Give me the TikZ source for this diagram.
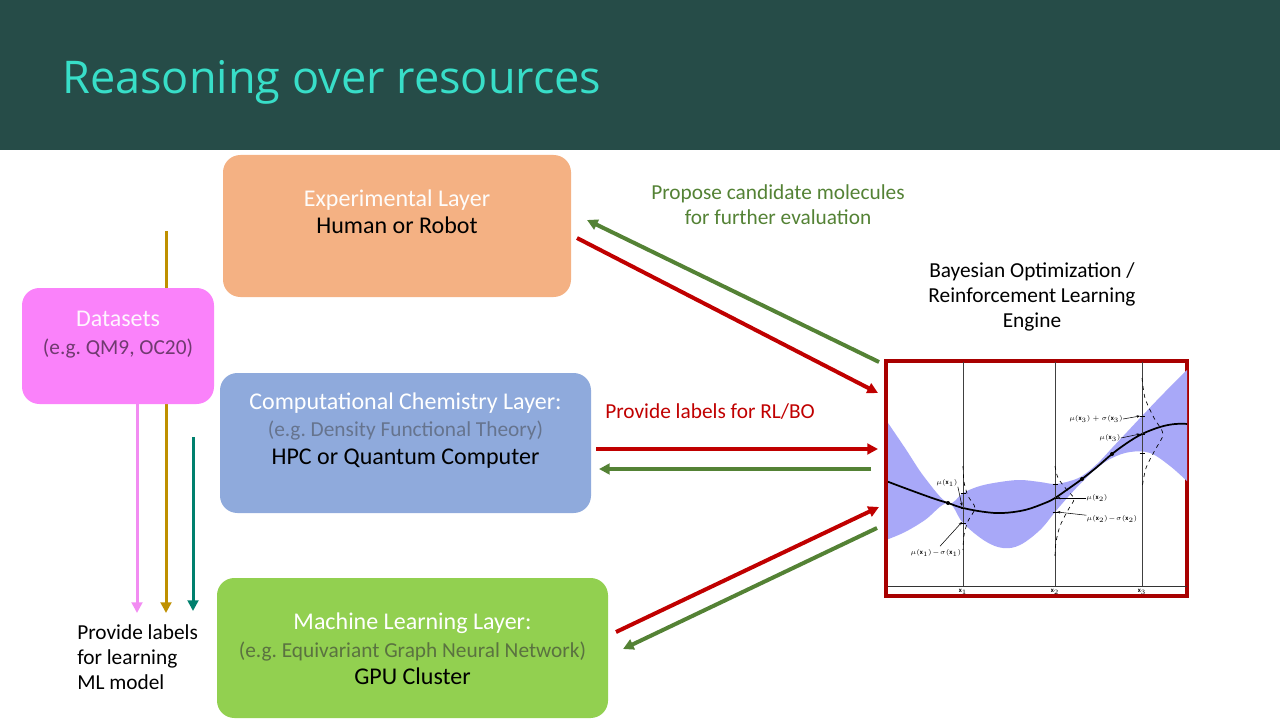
\documentclass[tikz,border=0pt]{standalone}
\usepackage{fontspec}
\setmainfont{Carlito}
\newfontfamily\titlefont{Open Sans}
\usetikzlibrary{arrows.meta,calc}
\frenchspacing

\definecolor{headbg}{HTML}{264C48}
\definecolor{titlecol}{HTML}{38DEC8}
\definecolor{expfill}{HTML}{F4B183}
\definecolor{datafill}{HTML}{FA82FA}
\definecolor{compfill}{HTML}{8FAADC}
\definecolor{mlfill}{HTML}{92D050}
\definecolor{redarr}{HTML}{C00000}
\definecolor{greenarr}{HTML}{548235}
\definecolor{goldarr}{HTML}{BF9000}
\definecolor{tealarr}{HTML}{00806E}
\definecolor{pinkarr}{HTML}{F28CF2}
\definecolor{framecol}{HTML}{A80000}
\definecolor{bandcol}{HTML}{A8A8F8}
\definecolor{datasub}{HTML}{703A70}
\definecolor{compsub}{HTML}{66748E}
\definecolor{mlsub}{HTML}{5A7240}

\newcommand{\subline}[2]{{\fontsize{16}{20.5}\selectfont\textcolor{#1}{#2}}}

\tikzset{
  layerbox/.style={rounded corners=13pt, draw=none, inner sep=0pt},
  boxtext/.style={font=\fontsize{18}{20.5}\selectfont, align=center, inner sep=0pt},
  note/.style={font=\fontsize{16}{18.75}\selectfont, align=center, inner sep=0pt},
  bigarrow/.style={line width=3pt, -{Triangle[length=8pt,width=8pt]}},
  vertarrow/.style={line width=2.25pt, -{Triangle[length=8pt,width=8pt]}},
  mathlab/.style={font=\fontsize{5}{6}\selectfont, inner sep=0pt},
  pointer/.style={line width=0.4pt, -{Stealth[length=2.5pt,width=2pt]}},
  dot/.style={circle, fill=black, inner sep=0pt, minimum size=3pt},
}

\begin{document}
\begin{tikzpicture}[x=0.75pt,y=-0.75pt]
\useasboundingbox (0,0) rectangle (1280,720);

% header band and title
\fill[headbg] (0,0) rectangle (1280,150);
\node[anchor=base west, text=titlecol, inner sep=0pt,
      font=\titlefont\fontsize{33.8}{40}\selectfont] (title) at (62,94) {Reasoning over resources};

% gold line runs behind the datasets box
\coordinate (goldtop) at (166,231);
\coordinate (goldend) at (166,613);
\draw[vertarrow, goldarr] (goldtop) -- (goldend);

% layer boxes
\node[layerbox, fill=expfill, minimum width=261pt, minimum height=106.5pt] (exp) at (397,226) {};
\node[layerbox, fill=datafill, minimum width=144pt, minimum height=87pt] (data) at (118,346) {};
\node[layerbox, fill=compfill, minimum width=278.25pt, minimum height=105pt] (comp) at (405.5,443) {};
\node[layerbox, fill=mlfill, minimum width=293.25pt, minimum height=105pt] (ml) at (412.5,648) {};

\node[boxtext] (explab) at (397,212) {\textcolor{white!96!expfill}{Experimental Layer}\\ Human or Robot};
\node[boxtext] (datalab) at (118,334.5) {\textcolor{white!92!datafill}{Datasets}\\ \subline{datasub}{(e.g. QM9, OC20)}};
\node[boxtext] (complab) at (405.5,430.5) {\textcolor{white}{Computational Chemistry Layer:}\\ \subline{compsub}{(e.g. Density Functional Theory)}\\ HPC or Quantum Computer};
\node[boxtext] (mllab) at (412.5,649) {\textcolor{white}{Machine Learning Layer:}\\ \subline{mlsub}{(e.g. Equivariant Graph Neural Network)}\\ GPU Cluster};

% dataset label arrows
\coordinate (pinkend) at (137,613);
\coordinate (tealtop) at (193,437);
\coordinate (tealend) at (193,611);
\draw[vertarrow, pinkarr] (data.south -| pinkend) -- (pinkend);
\draw[vertarrow, tealarr] (tealtop) -- (tealend);

\node[note, align=left, anchor=north west] (mlnote) at (77,624) {Provide labels\\for learning\\ML model};

% engine caption and notes
\node[note] (engcap) at (1032,297) {Bayesian Optimization /\\Reinforcement Learning\\Engine};
\node[note, text=greenarr] (propose) at (778,204.5) {Propose candidate molecules\\for further evaluation};
\node[note, text=redarr, anchor=west] (provide) at (605,412) {Provide labels for RL/BO};

% the Bayesian optimisation panel
\node[draw=framecol, line width=3pt, fill=white, minimum width=226pt, minimum height=176.5pt, inner sep=0pt] (engine) at (1036.5,478.5) {};

\begin{scope}
  \clip (888,362) rectangle (1187,586);
  % confidence band
  \fill[bandcol] plot[smooth, tension=0.6] coordinates {
      (886,420) (905,448) (925,478) (948,503) (963,493) (980,486) (1000,482)
      (1020,480) (1040,482) (1055,484) (1070,481) (1082,476) (1097,464)
      (1112,448) (1127,432) (1142,416) (1163,394) (1189,368)}
    -- plot[smooth, tension=0.6] coordinates {
      (1189,483) (1170,466) (1150,453) (1130,452) (1112,458) (1097,468)
      (1082,482) (1068,497) (1055,512) (1040,530) (1020,545) (1003,548)
      (985,541) (963,523) (948,503) (925,520) (905,532) (886,540)}
    -- cycle;
  % mean prediction
  \draw[line width=1.3pt] plot[smooth, tension=0.6] coordinates {
      (886,481) (910,490) (935,499) (948,503) (963,508) (985,512) (1003,513)
      (1025,510) (1045,503) (1055,498) (1068,489) (1082,479) (1097,467)
      (1112,454) (1127,443) (1142,434) (1160,427) (1175,424) (1189,424)};
\end{scope}

% sample locations
\draw[line width=0.4pt, black!75] (963,362) -- (963,586) (1055,362) -- (1055,586) (1142,362) -- (1142,586);
\draw[line width=0.5pt, black!80] (888,586) -- (1187,586);

% predictive densities
\draw[dashed, line width=0.5pt] plot[smooth] coordinates {
    (963,466) (964,482) (968,496) (975,508) (968,521) (964,535) (963,550)};
\draw[dashed, line width=0.5pt] plot[smooth] coordinates {
    (1055,466) (1058,478) (1067,490) (1074,499) (1068,510) (1060,526) (1056,542) (1055,556)};
\draw[dashed, line width=0.5pt] plot[smooth] coordinates {
    (1142,378) (1145,398) (1154,418) (1163,434) (1155,450) (1146,468) (1142,488)};

% observations and sigma ticks
\node[dot] (obs1) at (948,503) {};
\node[dot] (obs2) at (1082,479) {};
\node[dot] (obs3) at (1112,454) {};
\foreach \xx/\yy in {963/493, 963/523, 1055/484, 1055/512, 1142/416, 1142/453, 1055/498, 963/508, 1142/434}
  \draw[line width=0.6pt] (\xx-2.5,\yy) -- (\xx+2.5,\yy);

% annotations
\node[mathlab] (m1) at (947,483) {$\mu(\mathbf{x}_1)$};
\node[mathlab] (m1s) at (936,553) {$\mu(\mathbf{x}_1)\!-\!\sigma(\mathbf{x}_1)$};
\node[mathlab] (m2) at (1097,498) {$\mu(\mathbf{x}_2)$};
\node[mathlab] (m2s) at (1112,519) {$\mu(\mathbf{x}_2)\!-\!\sigma(\mathbf{x}_2)$};
\node[mathlab] (m3s) at (1096,419) {$\mu(\mathbf{x}_3)+\sigma(\mathbf{x}_3)$};
\node[mathlab] (m3) at (1110,438) {$\mu(\mathbf{x}_3)$};
\coordinate (p1) at (962,506);
\coordinate (p1s) at (962,522);
\coordinate (p2) at (1057,498);
\coordinate (p2s) at (1057,512);
\coordinate (p3s) at (1140,416);
\coordinate (p3) at (1140,434);
\draw[pointer] (m1.south east) -- (p1);
\draw[pointer] (m1s.north) ++(4,-3) -- (p1s);
\draw[pointer] (m2.west) -- (p2);
\draw[pointer] (m2s.north west) -- (p2s);
\draw[pointer] (m3s.east) -- (p3s);
\draw[pointer] (m3.east) -- (p3);
\node[mathlab] (ax1) at (963,592) {$\mathbf{x}_1$};
\node[mathlab] (ax2) at (1055,592) {$\mathbf{x}_2$};
\node[mathlab] (ax3) at (1142,592) {$\mathbf{x}_3$};

% exchanges between the layers and the engine
\coordinate (e1s) at (577,238);  \coordinate (e1t) at (878,393);
\coordinate (e2s) at (879,362);  \coordinate (e2t) at (587,220);
\coordinate (c1s) at (596,449);  \coordinate (c1t) at (878,449);
\coordinate (c2s) at (871,469);  \coordinate (c2t) at (599,469);
\coordinate (m1a) at (616,632);  \coordinate (m1b) at (879,507);
\coordinate (m2a) at (877,528);  \coordinate (m2b) at (623,649);
\draw[bigarrow, redarr] (e1s) -- (e1t);
\draw[bigarrow, greenarr] (e2s) -- (e2t);
\draw[bigarrow, redarr] (c1s) -- (c1t);
\draw[bigarrow, greenarr] (c2s) -- (c2t);
\draw[bigarrow, redarr] (m1a) -- (m1b);
\draw[bigarrow, greenarr] (m2a) -- (m2b);
\end{tikzpicture}
\end{document}
